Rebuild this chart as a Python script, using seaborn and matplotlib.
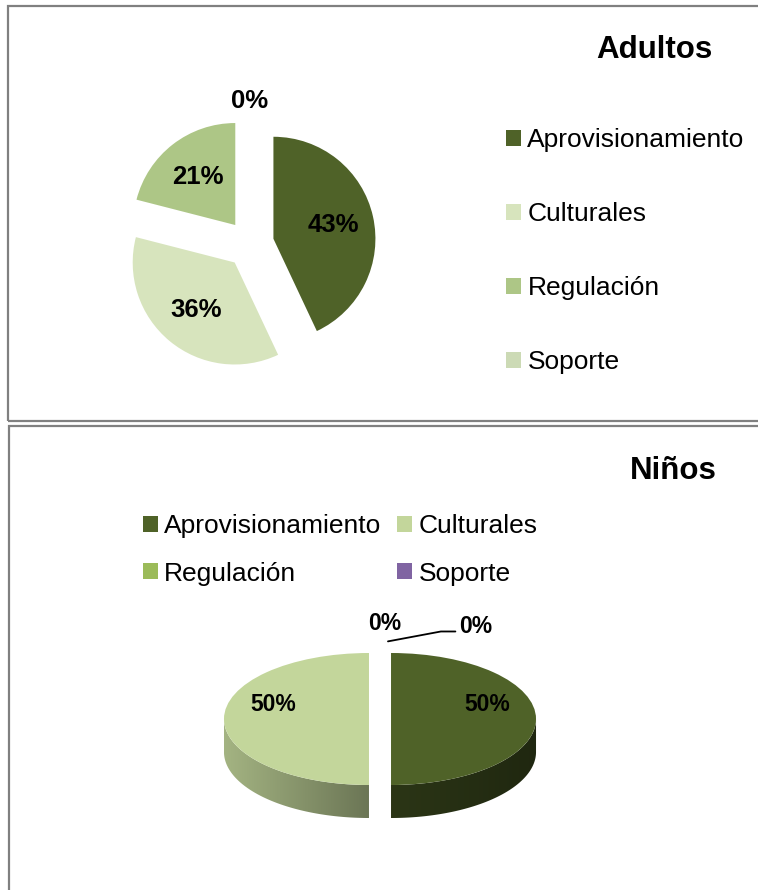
import numpy as np
import matplotlib
matplotlib.use("Agg")
import matplotlib.pyplot as plt
import seaborn as sns
from matplotlib.patches import Rectangle, Polygon, Patch
from matplotlib.colors import to_rgb

# datos
categorias = ["Aprovisionamiento", "Culturales", "Regulación", "Soporte"]
adultos = [43, 36, 21, 0]
ninos = [50, 50, 0, 0]
colores_adultos = ["#4F6228", "#D7E4BD", "#ADC686", "#CCDAB5"]
colores_ninos = ["#4F6228", "#C3D69B", "#9BBB59", "#8064A2"]

sns.set_theme(style="white")
plt.rcParams["font.family"] = ["Liberation Sans", "DejaVu Sans"]
plt.rcParams["text.color"] = "black"

W, H = 758, 890
fig = plt.figure(figsize=(W / 100, H / 100), dpi=100)
fig.patch.set_facecolor("white")


def px_rect(x0, y0, x1, y1):
    # caja en pixeles -> fraccion de figura
    return [x0 / W, 1 - y1 / H, (x1 - x0) / W, (y1 - y0) / H]


# marcos de los dos paneles
for (x0, y0, x1, y1) in [(8, 6, 775, 421), (9, 426, 775, 905)]:
    fig.add_artist(Rectangle((x0 / W, 1 - y1 / H), (x1 - x0) / W, (y1 - y0) / H,
                             transform=fig.transFigure, fill=False,
                             edgecolor="#808080", linewidth=1.6))

# ---------------- Adultos ----------------
pal1 = sns.color_palette(colores_adultos)
ax1 = fig.add_axes(px_rect(100, 94, 400, 394))
wedges, _ = ax1.pie(adultos, colors=pal1, startangle=90, counterclock=False,
                    radius=1.02, explode=[0.24] * len(adultos),
                    wedgeprops=dict(linewidth=0))
ax1.set_xlim(-1.5, 1.5)
ax1.set_ylim(-1.5, 1.5)
ax1.set_aspect("auto")
ax1.axis("off")
for w, v in zip(wedges, adultos):
    tm = np.deg2rad((w.theta1 + w.theta2) / 2)
    cx, cy = w.center
    d = 0.6 if v > 0 else 1.2
    ax1.text(cx + d * w.r * np.cos(tm), cy + d * w.r * np.sin(tm) - (0.03 if v == 0 else 0), f"{v}%",
             ha="center", va="center", fontsize=18.5, fontweight="bold", color="black")

fig.text(654 / W, 1 - 50 / H, "Adultos", ha="center", va="center",
         fontsize=22.5, fontweight="bold", color="black")

h1 = [Patch(facecolor=c, edgecolor="none") for c in pal1]
fig.legend(h1, categorias, loc="upper left", bbox_to_anchor=(506 / W, 1 - 128 / H),
           frameon=False, fontsize=19, handlelength=0.56, handleheight=0.56,
           handletextpad=0.25, labelspacing=1.9, borderpad=0, borderaxespad=0)

# ---------------- Niños (pastel 3D) ----------------
pal2 = sns.color_palette(colores_ninos)
rx, ry, cxp, cyp = 145, 66, 380, 719
bx0, by0, bx1, by1 = 200, 600, 560, 840
ax2 = fig.add_axes(px_rect(bx0, by0, bx1, by1))
wedges2, _ = ax2.pie(ninos, colors=pal2, startangle=90, counterclock=False,
                     radius=1, explode=[0.076] * len(ninos),
                     wedgeprops=dict(linewidth=0))

# paredes laterales con degradado
prof = 33 / ry
for w, c in zip(wedges2, pal2):
    cx, cy = w.center
    for k in (-360, 0, 360):
        lo, hi = max(w.theta1, -180 + k), min(w.theta2, k)
        if hi <= lo:
            continue
        ts = np.deg2rad(np.linspace(lo, hi, 120))
        xs, ys = cx + np.cos(ts), cy + np.sin(ts)
        pts = np.vstack([np.column_stack([xs, ys]),
                         np.column_stack([xs[::-1], ys[::-1] - prof])])
        lado = Polygon(pts, closed=True, facecolor="none", edgecolor="none")
        ax2.add_patch(lado)
        gx = np.linspace(xs.min(), xs.max(), 300)
        f = np.interp(gx - cx, [-1, 0, 1], [0.84, 0.55, 0.40])
        img = (np.array(to_rgb(c))[None, :] * f[:, None])[None, :, :]
        im = ax2.imshow(img, extent=[gx[0], gx[-1], ys.min() - prof, ys.max()],
                        aspect="auto", zorder=0.5, interpolation="bilinear")
        im.set_clip_path(lado)

zeros_seen = 0
for w, v in zip(wedges2, ninos):
    tm = np.deg2rad((w.theta1 + w.theta2) / 2)
    cx, cy = w.center
    if v > 0:
        ax2.text(cx + 0.66 * np.cos(tm), cy + 0.63 * np.sin(tm) + 0.22, f"{v}%",
                 ha="center", va="center", fontsize=16.5, fontweight="bold", color="black")
    else:
        tx, ty = cx + np.cos(tm), cy + np.sin(tm)
        if zeros_seen == 0:
            ax2.text(tx + 0.03, ty + 0.37, f"{v}%", ha="center", va="center",
                     fontsize=16.5, fontweight="bold", color="black")
        else:
            ax2.plot([tx + 0.055, tx + 0.42, tx + 0.52], [ty + 0.10, ty + 0.25, ty + 0.25],
                     color="black", linewidth=1.3, clip_on=False)
            ax2.text(tx + 0.66, ty + 0.32, f"{v}%", ha="center", va="center",
                     fontsize=16.5, fontweight="bold", color="black")
        zeros_seen += 1

ax2.set_xlim((bx0 - cxp) / rx, (bx1 - cxp) / rx)
ax2.set_ylim((cyp - by1) / ry, (cyp - by0) / ry)
ax2.set_aspect("auto")
ax2.axis("off")

fig.text(673 / W, 1 - 471 / H, "Niños", ha="center", va="center",
         fontsize=22.5, fontweight="bold", color="black")

# leyenda en dos columnas, rellenada por filas
orden = [0, 2, 1, 3]
h2 = [Patch(facecolor=pal2[i], edgecolor="none") for i in orden]
fig.legend(h2, [categorias[i] for i in orden], ncol=2, loc="upper left",
           bbox_to_anchor=(143 / W, 1 - 514 / H), frameon=False, fontsize=19,
           handlelength=0.56, handleheight=0.56, handletextpad=0.25,
           labelspacing=0.9, columnspacing=0.6, borderpad=0, borderaxespad=0)

fig.savefig("out.png", dpi=100)
